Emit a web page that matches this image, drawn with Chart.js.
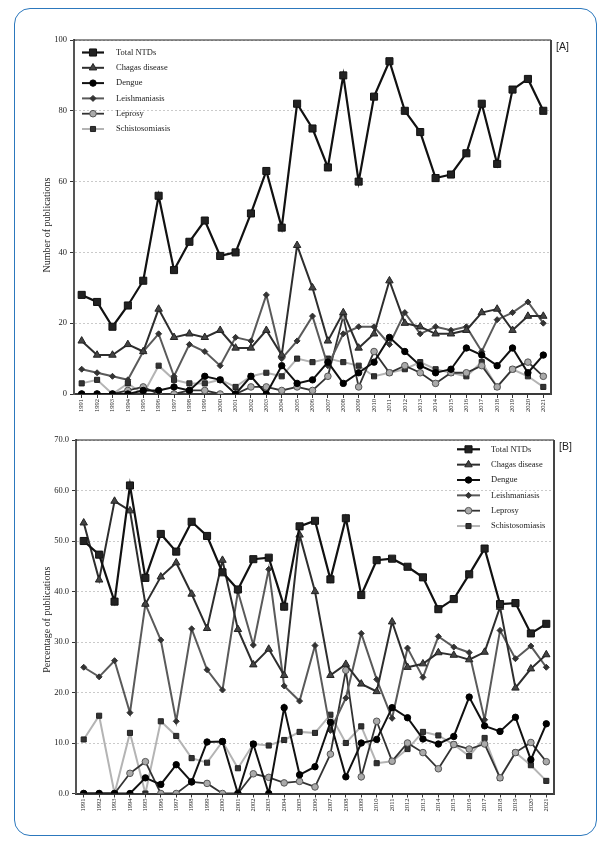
<!DOCTYPE html>
<html><head><meta charset="utf-8">
<script src="https://cdn.jsdelivr.net/npm/chart.js@4.4.0/dist/chart.umd.min.js"></script>
<style>
html,body{margin:0;padding:0;background:#fff;width:608px;height:846px;overflow:hidden;position:relative}
#frame{position:absolute;left:14px;top:8px;width:583px;height:828px;border:1px solid #2c78bd;border-radius:16px;box-sizing:border-box}
#ca{position:absolute;left:0;top:0}
#cb{position:absolute;left:0;top:420px}
.tag{position:absolute;font-family:"Liberation Sans",Arial,sans-serif;font-size:10.5px;color:#222}
</style></head><body>
<div id="frame"></div>
<canvas id="ca" width="608" height="420"></canvas>
<canvas id="cb" width="608" height="426"></canvas>
<div class="tag" style="left:556px;top:40px">[A]</div>
<div class="tag" style="left:559px;top:440px">[B]</div>
<script>
const years = ['1991','1992','1993','1994','1995','1996','1997','1998','1999','2000','2001','2002','2003','2004','2005','2006','2007','2008','2009','2010','2011','2012','2013','2014','2015','2016','2017','2018','2019','2020','2021'];
const seriesNames = ['Total NTDs','Chagas disease','Dengue','Leishmaniasis','Leprosy','Schistosomiasis'];

// Panel A: number of publications
const countTotal   = [28,26,19,25,32,56,35,43,49,39,40,51,63,47,82,75,64,90,60,84,94,80,74,61,62,68,82,65,86,89,80];
const countChagas  = [15,11,11,14,12,24,16,17,16,18,13,13,18,11,42,30,15,23,13,17,32,20,19,17,17,18,23,24,18,22,22];
const countDengue  = [0,0,0,0,1,1,2,1,5,4,0,5,0,8,3,4,9,3,6,9,16,12,8,6,7,13,11,8,13,6,11];
const countLeish   = [7,6,5,4,12,17,5,14,12,8,16,15,28,10,15,22,8,17,19,19,14,23,17,19,18,19,12,21,23,26,20];
const countLeprosy = [0,0,0,1,2,0,0,1,1,0,0,2,2,1,2,1,5,22,2,12,6,8,6,3,6,6,8,2,7,9,5];
const countSchisto = [3,4,0,3,0,8,4,3,3,4,2,5,6,5,10,9,10,9,8,5,6,7,9,7,6,5,9,2,7,5,2];

// Panel B: percentage of publications
const pctTotal   = [50.0,47.3,38.0,61.0,42.7,51.4,47.9,53.8,51.0,43.8,40.4,46.4,46.7,37.0,52.9,54.0,42.4,54.5,39.3,46.2,46.5,44.9,42.8,36.5,38.5,43.4,48.5,37.5,37.7,31.7,33.6];
const pctChagas  = [53.6,42.3,57.9,56.0,37.5,42.9,45.7,39.5,32.7,46.2,32.5,25.5,28.6,23.4,51.2,40.0,23.4,25.6,21.7,20.2,34.0,25.0,25.7,27.9,27.4,26.5,28.0,36.9,20.9,24.7,27.5];
const pctDengue  = [0,0,0,0,3.1,1.8,5.7,2.3,10.2,10.3,0,9.8,0,17.0,3.7,5.3,14.1,3.3,10.0,10.7,17.0,15.0,10.8,9.8,11.3,19.1,13.4,12.3,15.1,6.7,13.8];
const pctLeish   = [25.0,23.1,26.3,16.0,37.5,30.4,14.3,32.6,24.5,20.5,40.0,29.4,44.4,21.3,18.3,29.3,12.5,18.9,31.7,22.6,14.9,28.8,23.0,31.1,29.0,27.9,14.6,32.3,26.7,29.2,25.0];
const pctLeprosy = [0,0,0,4.0,6.3,0,0,2.3,2.0,0,0,3.9,3.2,2.1,2.4,1.3,7.8,24.4,3.3,14.3,6.4,10.0,8.1,4.9,9.7,8.8,9.8,3.1,8.1,10.1,6.3];
const pctSchisto = [10.7,15.4,0,12.0,0,14.3,11.4,7.0,6.1,10.3,5.0,9.8,9.5,10.6,12.2,12.0,15.6,10.0,13.3,6.0,6.4,8.8,12.2,11.5,9.7,7.4,11.0,3.1,8.1,5.6,2.5];

const ticksA = [0,20,40,60,80,100];
const ticksB = [0,10,20,30,40,50,60,70];

const styles = [
  {borderColor:'#111', borderWidth:2.2, pointStyle:'rect', pointRadius:5, pointBackgroundColor:'#222', pointBorderColor:'#111', pointBorderWidth:1},
  {borderColor:'#2e2e2e', borderWidth:2, pointStyle:'triangle', pointRadius:4.3, pointBackgroundColor:'#444', pointBorderColor:'#222', pointBorderWidth:1},
  {borderColor:'#111', borderWidth:2, pointStyle:'circle', pointRadius:3.2, pointBackgroundColor:'#000', pointBorderColor:'#000', pointBorderWidth:1},
  {borderColor:'#5a5a5a', borderWidth:2, pointStyle:'rectRot', pointRadius:3, pointBackgroundColor:'#333', pointBorderColor:'#333', pointBorderWidth:1},
  {borderColor:'#333', borderWidth:1.8, pointStyle:'circle', pointRadius:3.3, pointBackgroundColor:'#aaa', pointBorderColor:'#555', pointBorderWidth:1},
  {borderColor:'#b4b4b4', borderWidth:2, pointStyle:'rect', pointRadius:3.6, pointBackgroundColor:'#333', pointBorderColor:'#222', pointBorderWidth:1}
];

function makeDatasets(arrs){
  return arrs.map((d,i)=>Object.assign({label:seriesNames[i], data:d, fill:false, tension:0, pointHoverRadius:styles[i].pointRadius}, styles[i]));
}

const framePlugin = {
  id:'frameLines',
  afterDraw(chart){
    const a = chart.chartArea, ctx = chart.ctx;
    ctx.save();
    ctx.strokeStyle = '#222'; ctx.lineWidth = 1.2;
    ctx.beginPath(); ctx.moveTo(a.left, a.top); ctx.lineTo(a.right, a.top); ctx.stroke();
    ctx.strokeStyle = '#444'; ctx.lineWidth = 2;
    ctx.beginPath(); ctx.moveTo(a.right, a.top); ctx.lineTo(a.right, a.bottom+1); ctx.stroke();
    ctx.restore();
  }
};

const yTitlePlugin = {
  id:'yTitle',
  afterDraw(chart, args, o){
    const a = chart.chartArea, ctx = chart.ctx;
    ctx.save();
    ctx.translate(o.x, (a.top + a.bottom)/2 + o.dy);
    ctx.rotate(-Math.PI/2);
    ctx.fillStyle = '#222';
    ctx.font = o.size + 'px "Liberation Serif", "Times New Roman", serif';
    ctx.textAlign = 'center'; ctx.textBaseline = 'middle';
    ctx.fillText(o.text, 0, 0);
    ctx.restore();
  }
};

const legendPlugin = {
  id:'customLegend',
  afterDraw(chart, args, o){
    const ctx = chart.ctx;
    chart.data.datasets.forEach((ds,i)=>{
      const y = o.y0 + i*o.dy;
      ctx.save();
      ctx.strokeStyle = ds.borderColor; ctx.lineWidth = ds.borderWidth;
      ctx.beginPath(); ctx.moveTo(o.x0, y); ctx.lineTo(o.x1, y); ctx.stroke();
      ctx.fillStyle = ds.pointBackgroundColor; ctx.strokeStyle = ds.pointBorderColor; ctx.lineWidth = ds.pointBorderWidth;
      Chart.helpers.drawPoint(ctx, {pointStyle:ds.pointStyle, radius:ds.pointRadius, borderWidth:ds.pointBorderWidth, rotation:0}, (o.x0+o.x1)/2, y);
      ctx.fillStyle = '#222';
      ctx.font = '8.5px "Liberation Serif", "Times New Roman", serif';
      ctx.textBaseline = 'middle'; ctx.textAlign = 'left';
      ctx.fillText(ds.label, o.tx, y);
      ctx.restore();
    });
  }
};

function makeOptions(cfg){
  return {
    responsive:false, animation:false,
    layout:{padding:cfg.padding},
    plugins:{legend:{display:false}, tooltip:{enabled:false}, customLegend:cfg.legend, yTitle:cfg.ytitle},
    scales:{
      x:{
        type:'category', offset:true,
        grid:{display:true, drawOnChartArea:false, drawTicks:true, tickLength:4, tickColor:'#333', tickWidth:1, offset:false},
        border:{display:true, color:'#3a3a3a', width:2},
        ticks:{autoSkip:false, maxRotation:90, minRotation:90, padding:1, color:'#222', font:{family:'"Liberation Serif", serif', size:6.5}},
        afterFit(s){ s.height = cfg.xh; }
      },
      y:{
        min:cfg.min, max:cfg.max,
        afterBuildTicks(s){ s.ticks = cfg.ticks.map(v=>({value:v})); },
        grid:{color:'#bdbdbd', lineWidth:0.8, drawTicks:true, tickLength:4, tickColor:'#333', tickWidth:1},
        border:{display:true, color:'#555', width:2, dash:[2,2]},
        ticks:{padding:3, color:'#222', font:{family:'"Liberation Serif", serif', size:8.5}, callback:cfg.fmt},
        title:{display:false},
        afterFit(s){ s.width = cfg.yw; }
      }
    }
  };
}

new Chart(document.getElementById('ca'), {
  type:'line',
  data:{labels:years, datasets:makeDatasets([countTotal,countChagas,countDengue,countLeish,countLeprosy,countSchisto])},
  options:makeOptions({padding:{left:36,top:40,right:57,bottom:4}, xh:22, yw:38, min:0, max:100, ticks:ticksA,
    fmt:v=>String(v),
    ytitle:{text:'Number of publications', x:47.5, dy:8, size:10},
    legend:{x0:82, x1:104, tx:116, y0:52.5, dy:15.3}}),
  plugins:[framePlugin, legendPlugin, yTitlePlugin]
});

new Chart(document.getElementById('cb'), {
  type:'line',
  data:{labels:years, datasets:makeDatasets([pctTotal,pctChagas,pctDengue,pctLeish,pctLeprosy,pctSchisto])},
  options:makeOptions({padding:{left:36,top:20,right:54,bottom:30}, xh:22.5, yw:40, min:0, max:70, ticks:ticksB,
    fmt:v=>Number(v).toFixed(1),
    ytitle:{text:'Percentage of publications', x:47.5, dy:3, size:10},
    legend:{x0:457, x1:480, tx:491, y0:29.3, dy:15.35}}),
  plugins:[framePlugin, legendPlugin, yTitlePlugin]
});
</script>
</body></html>
